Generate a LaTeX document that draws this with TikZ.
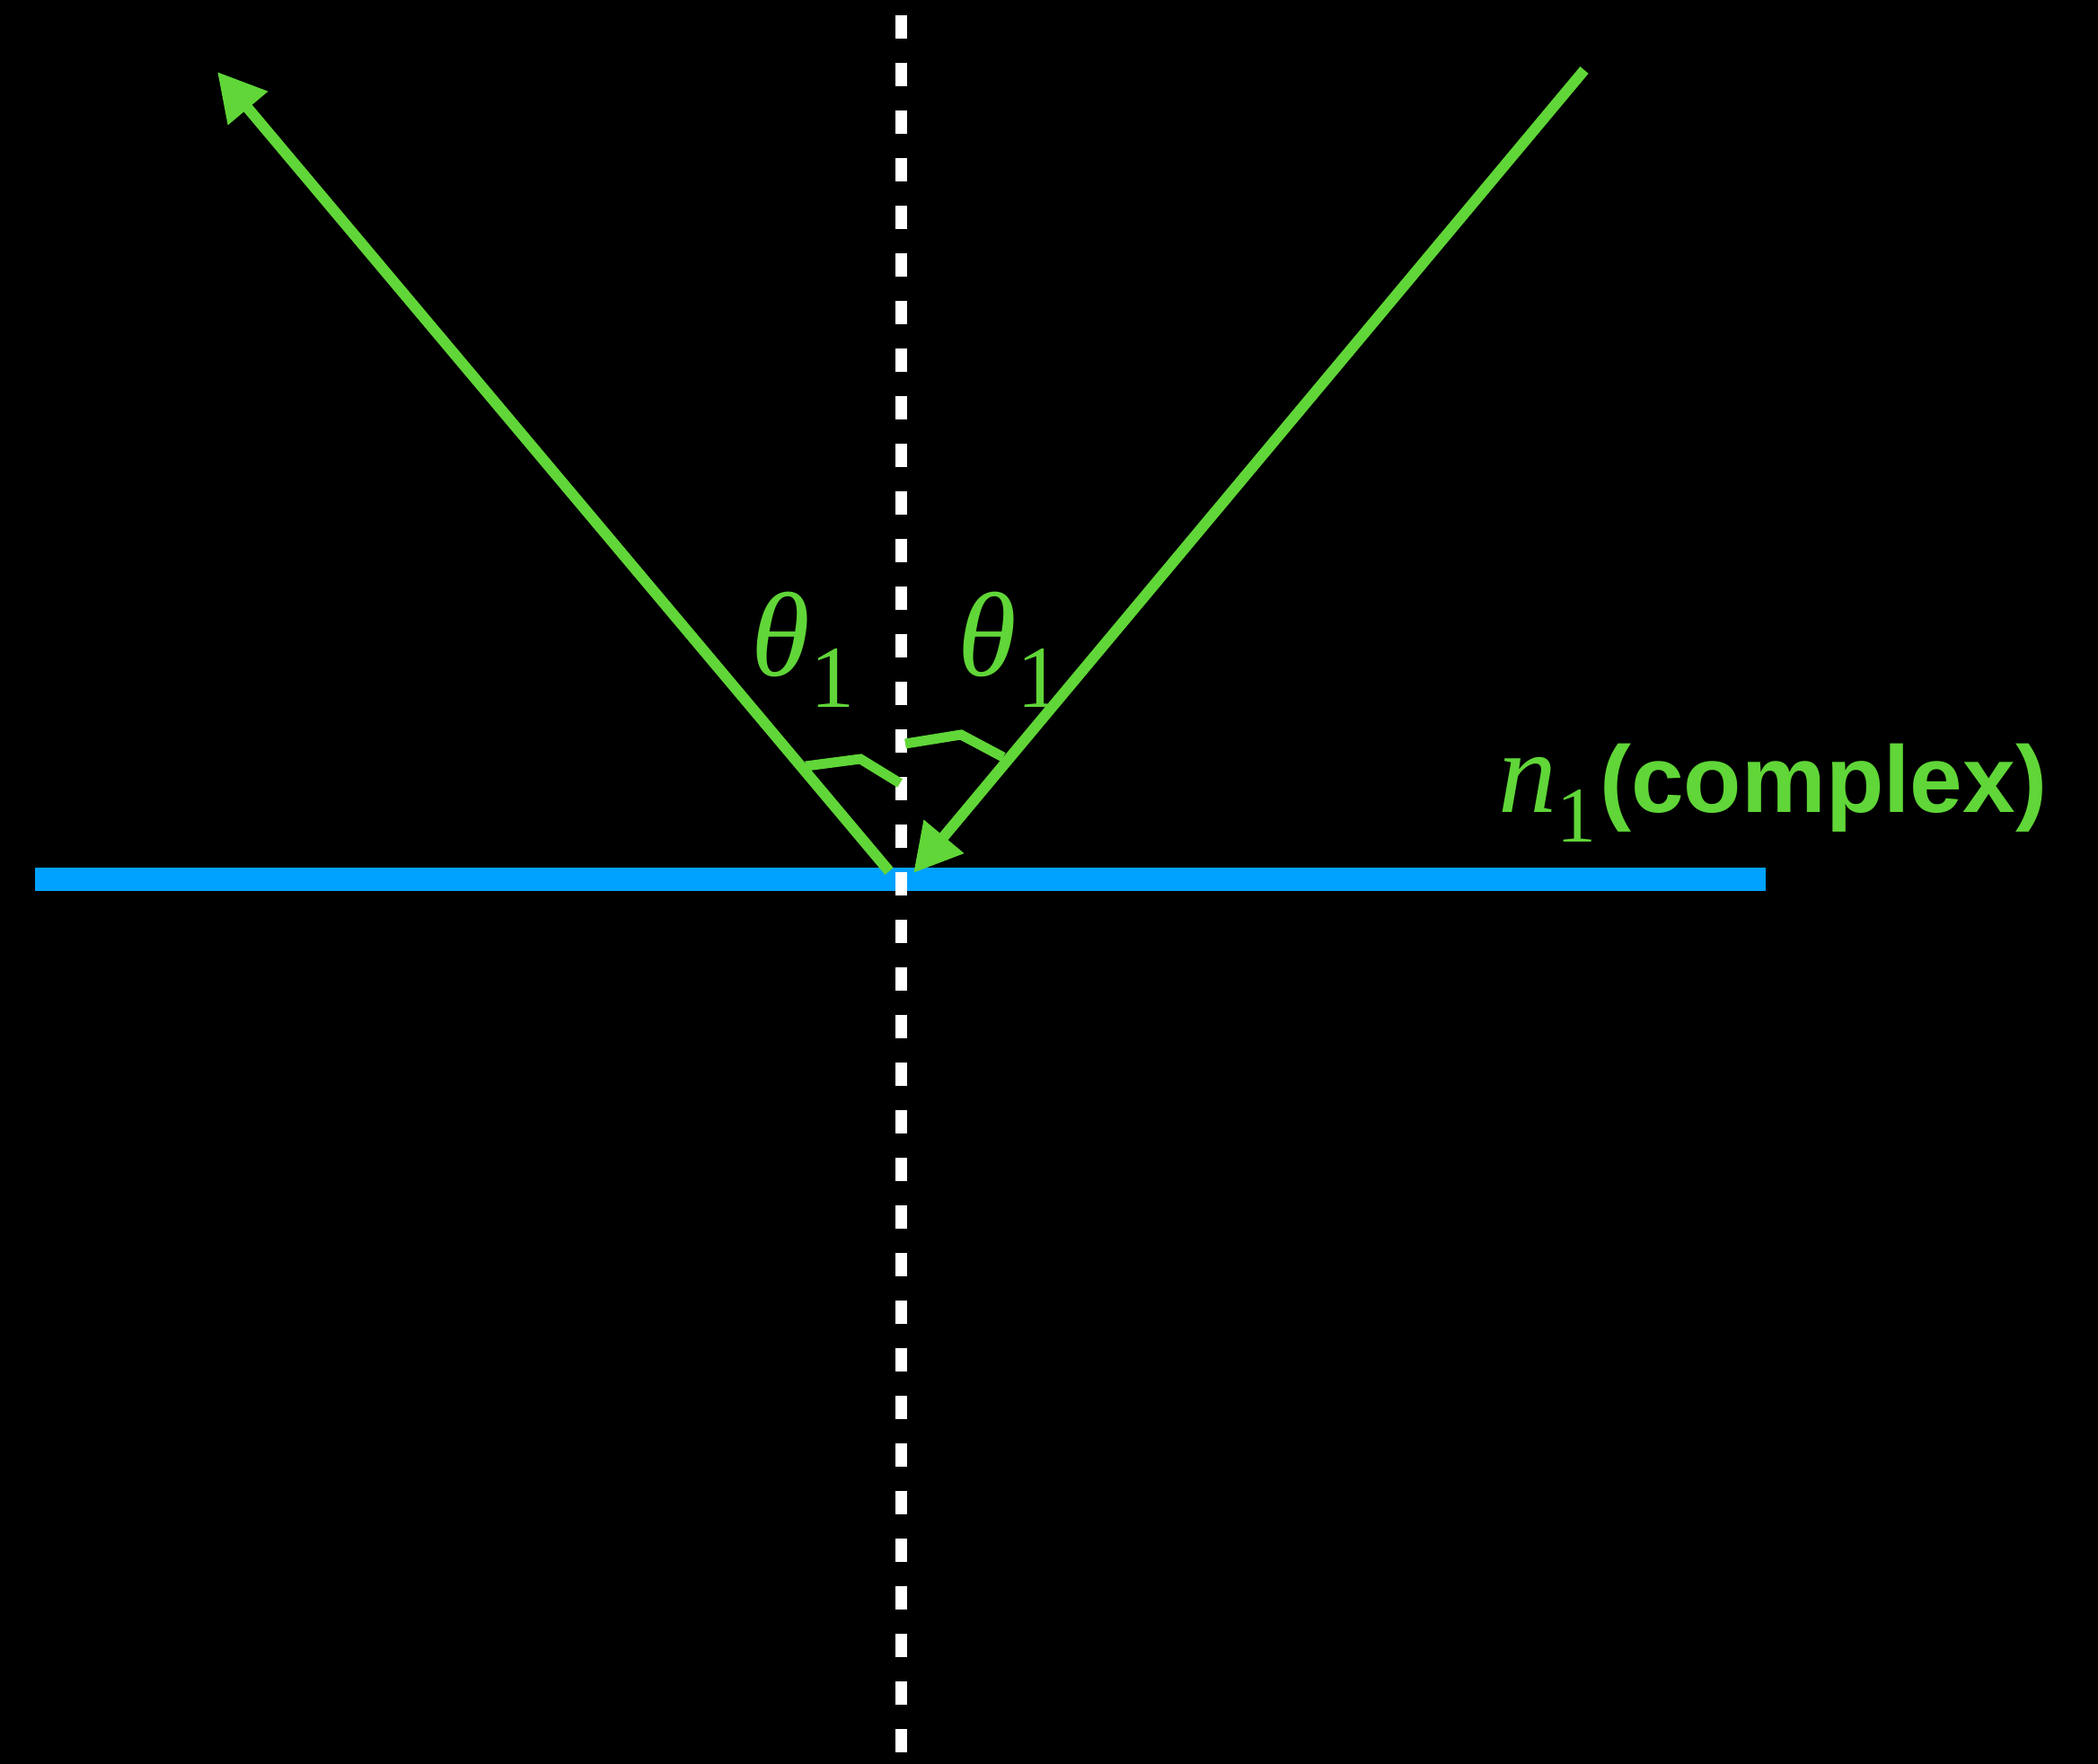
\documentclass[tikz,border=0pt]{standalone}
\usepackage{amssymb,amsfonts,amsmath}
\usepackage{fontspec}
\setsansfont{Liberation Sans}
\newfontfamily\timesfont{Liberation Serif}
\usetikzlibrary{arrows.meta}

% 带下标的斜体符号
\newcommand{\symsub}[4]{{\itshape #1}\raisebox{-#3}{\fontsize{#2}{#2}\selectfont\upshape #4}}

\begin{document}
\begin{tikzpicture}
      % 配色
      \definecolor{raycolor}{RGB}{96,214,56}      % 绿色光线
      \definecolor{surfcolor}{RGB}{0,162,255}     % 蓝色界面
      \definecolor{normalcolor}{RGB}{255,255,255} % 白色法线

      % 定义样式
      \tikzstyle{ray} = [line width=0.12cm, draw=raycolor, -{Triangle[length=0.53cm, width=0.55cm, fill=raycolor]}]
      \tikzstyle{anglemark} = [line width=0.11cm, draw=raycolor]
      \tikzstyle{surface} = [line width=0.26cm, draw=surfcolor]
      \tikzstyle{normalline} = [line width=0.13cm, draw=normalcolor, dash pattern=on 0.26cm off 0.27cm, dash phase=0.36cm]
      \tikzstyle{mathlabel} = [inner sep=0pt, text=raycolor, font=\fontsize{38}{40}\selectfont\timesfont]

      % 背景
      \useasboundingbox (0,0) rectangle (23.36,-19.64);
      \fill[black] (0,0) rectangle (23.36,-19.64);

      % 关键点
      \coordinate (normtop) at (10.03,0);
      \coordinate (normbot) at (10.03,-19.64);
      \coordinate (surfL) at (0.39,-9.785);
      \coordinate (surfR) at (19.66,-9.785);
      \coordinate (inStart) at (17.64,-0.78);
      \coordinate (inHit) at (10.17,-9.72);
      \coordinate (outStart) at (9.90,-9.70);
      \coordinate (outEnd) at (2.42,-0.80);

      % 界面与法线
      \draw[surface] (surfL) -- (surfR);
      \draw[normalline] (normtop) -- (normbot);

      % 入射与反射光线
      \draw[ray] (inStart) -- (inHit);
      \draw[ray] (outStart) -- (outEnd);

      % 角度标记
      \draw[anglemark] (8.97,-8.53) -- (9.58,-8.45) -- (10.02,-8.72);
      \draw[anglemark] (10.08,-8.28) -- (10.70,-8.18) -- (11.17,-8.43);

      % 标签
      \node[mathlabel, anchor=base west] (thetaL) at (8.36,-7.53) {\symsub{θ}{28}{9.7pt}{1}};
      \node[mathlabel, anchor=base west] (thetaR) at (10.66,-7.53) {\symsub{θ}{28}{9.7pt}{1}};
      \node[mathlabel, anchor=base west, font=\fontsize{37}{40}\selectfont\timesfont] (medium) at (16.68,-9.04)
        {\symsub{n}{25}{9.4pt}{1}\hspace{1pt}\fontsize{30}{32}\selectfont\sffamily\bfseries(complex)};
    \end{tikzpicture}
\end{document}
